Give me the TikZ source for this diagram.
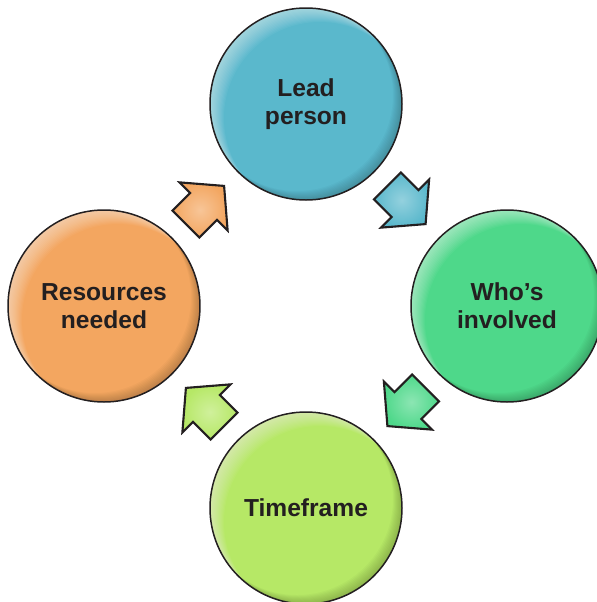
\documentclass[tikz,border=0pt]{standalone}
\usepackage{fontspec}
\setmainfont{Liberation Sans}
\usetikzlibrary{calc}

\definecolor{leadblue}{HTML}{5AB8CC}
\definecolor{whogreen}{HTML}{4ED88A}
\definecolor{timegreen}{HTML}{B6E866}
\definecolor{resorange}{HTML}{F3A660}
\definecolor{ink}{HTML}{231F20}

\begin{document}
\begin{tikzpicture}[x=0.02cm, y=-0.02cm,
    stage/.style={circle, minimum size=3.84cm, inner sep=0pt, align=center,
      text=ink, font=\fontsize{14}{16}\selectfont\bfseries},
    rim/.style={draw=ink, line width=0.85pt},
    arrowbody/.style={draw=ink, line width=1.2pt, line join=miter},
    pics/blockarrow/.style={code={
      \path[arrowbody, inner color=#1!65!white, outer color=#1]
        (-27,-19) -- (-2,-19) -- (-2,-34) -- (27,0) -- (-2,34) -- (-2,19) -- (-27,19) -- cycle;
    }}]
  \useasboundingbox (0,0) rectangle (597,602);

  % Stages
  \node[stage, fill=leadblue] (lead) at (306,104) {Lead\\person};
  \node[stage, fill=whogreen] (who) at (507,306) {Who’s\\involved};
  \node[stage, fill=timegreen] (time) at (306,508) {Timeframe};
  \node[stage, fill=resorange] (res) at (104,306) {Resources\\needed};

  % Glossy rims
  \foreach \n in {lead,who,time,res} {
    \begin{scope}
      \clip (\n.center) circle (96);
      \foreach \s in {1,...,14}
        \fill[white, opacity=0.045, even odd rule]
          (\n.center) circle (96) ([shift={(\s,\s)}]\n.center) circle (96);
      \foreach \s in {1,...,9}
        \fill[black, opacity=0.025, even odd rule]
          (\n.center) circle (96) ([shift={(-\s,-\s)}]\n.center) circle (96);
    \end{scope}
    \draw[rim] (\n.center) circle (96);
  }

  % Arrows between stages
  \pic[rotate=45] at ($(res)!0.5!(lead)$) {blockarrow=resorange};
  \pic[rotate=-45] at ($(lead)!0.5!(who)$) {blockarrow=leadblue};
  \pic[rotate=-135] at ($(who)!0.5!(time)$) {blockarrow=whogreen};
  \pic[rotate=135] at ($(time)!0.5!(res)$) {blockarrow=timegreen};
\end{tikzpicture}
\end{document}
